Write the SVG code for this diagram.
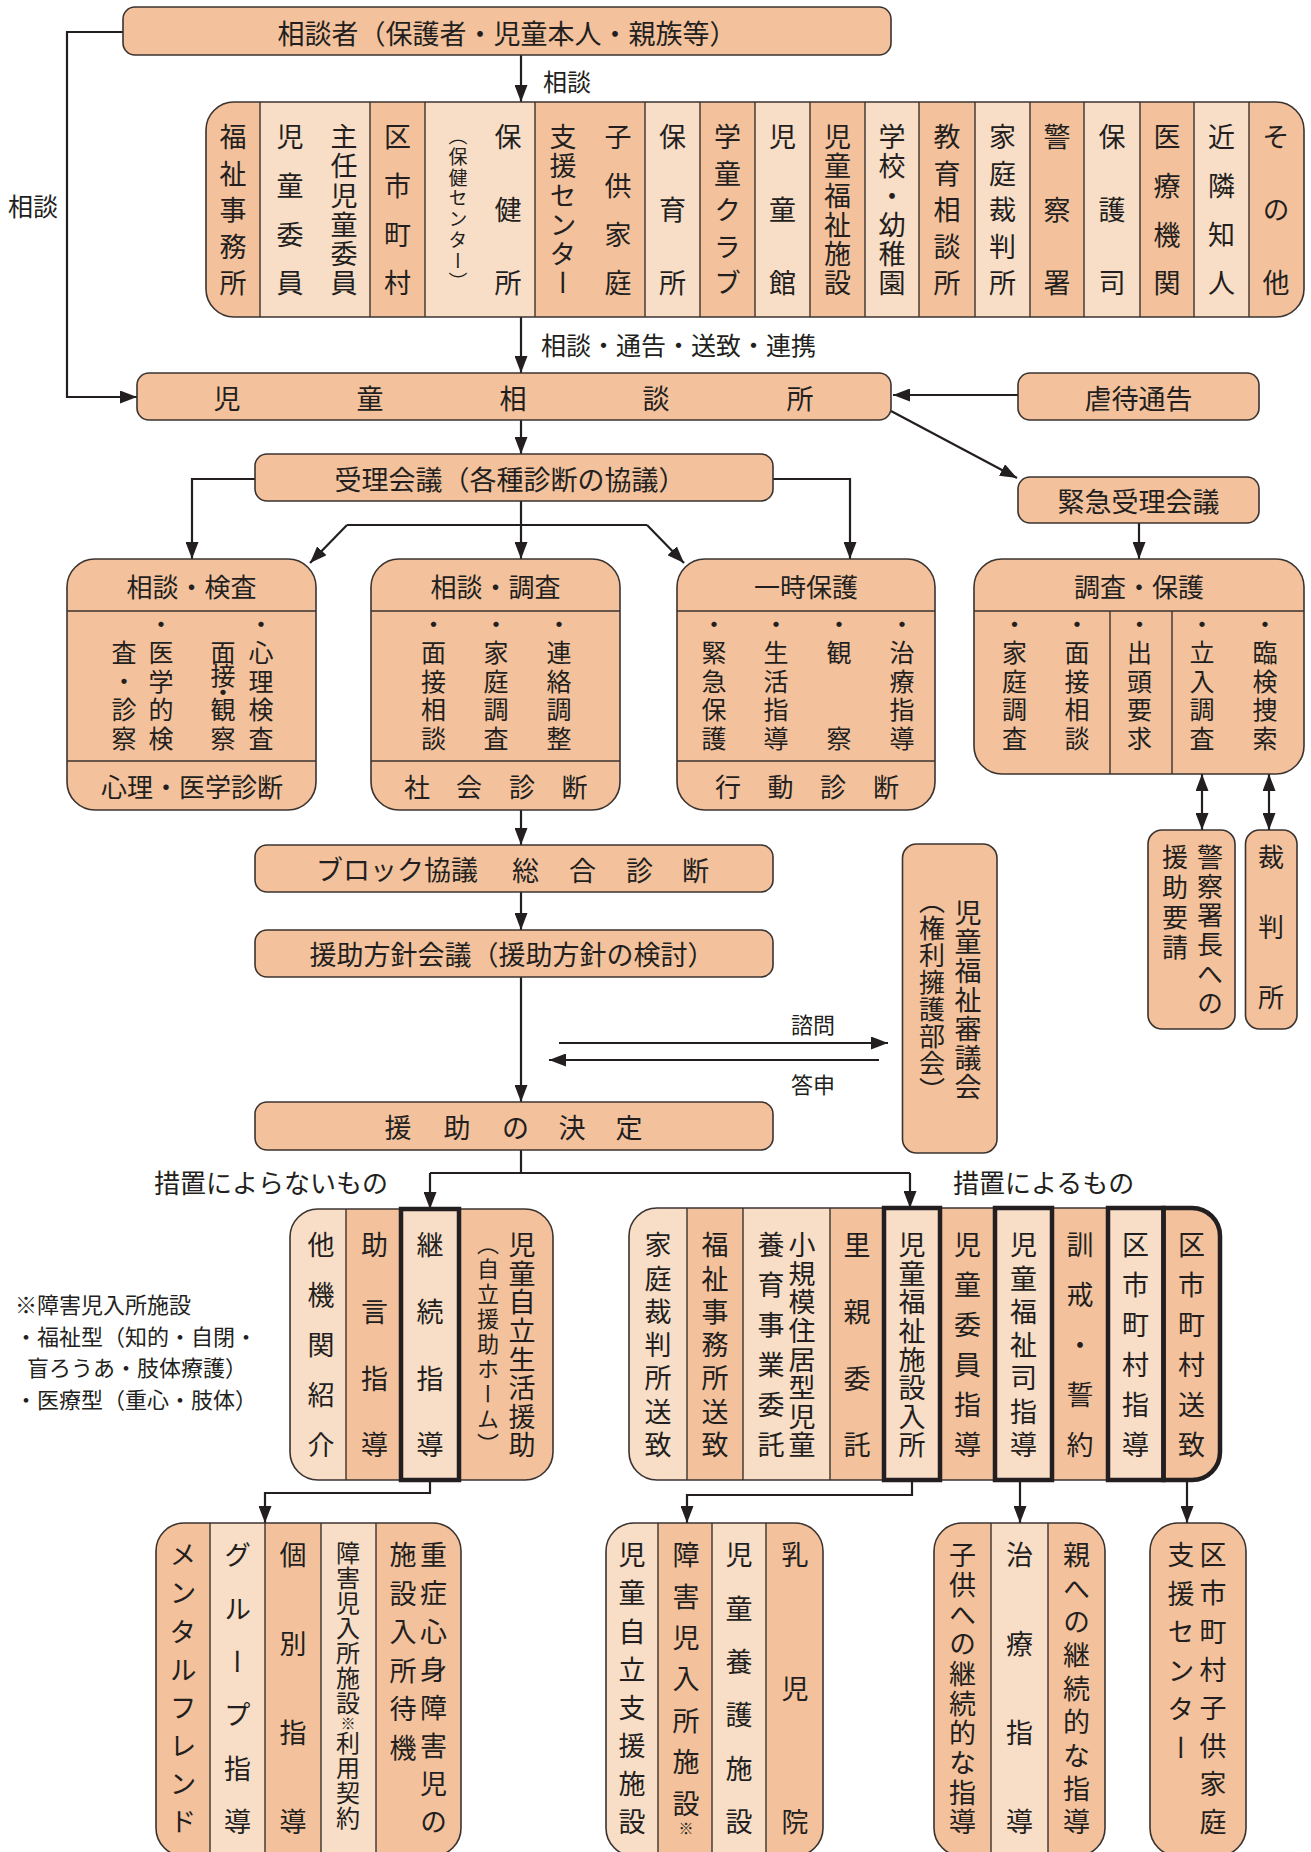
<svg xmlns="http://www.w3.org/2000/svg" width="1311" height="1852" viewBox="0 0 1311 1852">
<defs>
<style>
text{font-family:"Noto Sans CJK JP","Noto Sans CJK SC",sans-serif;fill:#231f20}
.m{text-anchor:middle;dominant-baseline:central}
.s{text-anchor:start;dominant-baseline:central}
.v{writing-mode:vertical-rl}
.f27{font-size:27px}.f26{font-size:26px}.f25{font-size:25px}.f24{font-size:24px}.f22{font-size:22px}.f19{font-size:19px}
.dk{fill:#F3C29C}.lt{fill:#F8DDC7}
.box{fill:#F3C29C;stroke:#3b3330;stroke-width:1.6}
.ol{fill:none;stroke:#3b3330;stroke-width:1.6}
.sep{fill:none;stroke:#3b3330;stroke-width:1.4}
.thk{fill:none;stroke:#231f20;stroke-width:4.5}
.ln{fill:none;stroke:#231f20;stroke-width:2.2}
.ar{marker-end:url(#ah)}
.ar2{marker-start:url(#ah);marker-end:url(#ah)}
</style>
<marker id="ah" viewBox="0 0 17 13" refX="17" refY="6.5" markerWidth="17" markerHeight="13" markerUnits="userSpaceOnUse" orient="auto-start-reverse"><path d="M0,0L17,6.5L0,13Z" fill="#231f20"/></marker>
<clipPath id="cAg"><rect x="206" y="102" width="1098" height="215" rx="28"/></clipPath>
<clipPath id="cL"><rect x="290" y="1209" width="263" height="271" rx="28"/></clipPath>
<clipPath id="cR"><rect x="629" y="1208" width="591" height="272" rx="28"/></clipPath>
<clipPath id="cA"><rect x="156" y="1523" width="305" height="333" rx="28"/></clipPath>
<clipPath id="cB"><rect x="606" y="1523" width="217" height="333" rx="28"/></clipPath>
<clipPath id="cC"><rect x="934" y="1523" width="171" height="333" rx="28"/></clipPath>
</defs>

<g id="connectors">
<path class="ln ar" d="M123,32H67V397H137"/>
<path class="ln ar" d="M521,55V102"/>
<path class="ln ar" d="M521,317V373"/>
<path class="ln ar" d="M1018,395H893"/>
<path class="ln ar" d="M891,411L1017,478"/>
<path class="ln ar" d="M1139,523V559"/>
<path class="ln ar" d="M521,420V454"/>
<path class="ln ar" d="M255,479H192V559"/>
<path class="ln ar" d="M773,479H850V559"/>
<path class="ln ar" d="M521,501V559"/>
<path class="ln" d="M347,525H647"/>
<path class="ln ar" d="M347,525L310,563"/>
<path class="ln ar" d="M647,525L684,563"/>
<path class="ln ar2" d="M1202,774V830"/>
<path class="ln ar2" d="M1269,774V830"/>
<path class="ln ar" d="M521,810V845"/>
<path class="ln ar" d="M521,892V930"/>
<path class="ln ar" d="M521,977V1102"/>
<path class="ln ar" d="M559,1043H888"/>
<path class="ln ar" d="M879,1060H549"/>
<path class="ln" d="M521,1150V1173M430,1173H910"/>
<path class="ln ar" d="M430,1173V1209"/>
<path class="ln ar" d="M910,1173V1208"/>
<path class="ln ar" d="M430,1480V1493H265V1523"/>
<path class="ln ar" d="M912,1480V1495H687V1523"/>
<path class="ln ar" d="M1020,1480V1523"/>
<path class="ln ar" d="M1187,1480V1523"/>
<text class="s f25" x="8" y="205">相談</text>
<text class="s f24" x="543" y="80">相談</text>
<text class="s f25" x="541" y="344">相談・通告・送致・連携</text>
<text class="m f22" x="813" y="1023">諮問</text>
<text class="m f22" x="813" y="1083">答申</text>
<text class="s f26" x="154" y="1181">措置によらないもの</text>
<text class="s f26" x="953" y="1181">措置によるもの</text>
</g>

<g id="soudansha">
<rect class="box" x="123" y="7" width="768" height="48" rx="12"/>
<text class="m f27" x="507" y="32">相談者（保護者・児童本人・親族等）</text>
</g>

<g id="agencies">
<g clip-path="url(#cAg)">
<rect class="dk" x="206" y="102" width="1098" height="215"/>
<rect class="lt" x="260" y="102" width="110" height="215"/>
<rect class="lt" x="425" y="102" width="110" height="215"/>
<rect class="lt" x="645" y="102" width="55" height="215"/>
<rect class="lt" x="755" y="102" width="55" height="215"/>
<rect class="lt" x="865" y="102" width="54" height="215"/>
<rect class="lt" x="975" y="102" width="55" height="215"/>
<rect class="lt" x="1084" y="102" width="56" height="215"/>
<rect class="lt" x="1194" y="102" width="55" height="215"/>
</g>
<path class="sep" d="M260,102V317M370,102V317M425,102V317M535,102V317M645,102V317M700,102V317M755,102V317M810,102V317M865,102V317M919,102V317M975,102V317M1030,102V317M1084,102V317M1140,102V317M1194,102V317M1249,102V317"/>
<rect class="ol" x="206" y="102" width="1098" height="215" rx="28"/>
<text class="v f27" x="233" y="123.5" style="letter-spacing:9.5px">福祉事務所</text>
<text class="v f27" x="290" y="123.5" style="letter-spacing:21.67px">児童委員</text>
<text class="v f27" x="344" y="123.5" style="letter-spacing:2.2px">主任児童委員</text>
<text class="v f27" x="397.5" y="123.5" style="letter-spacing:21.67px">区市町村</text>
<text class="v f19" x="458" y="126" style="letter-spacing:1.9px">（保健センター）</text>
<text class="v f27" x="508" y="123.5" style="letter-spacing:46px">保健所</text>
<text class="v f27" x="563" y="123.5" style="letter-spacing:2.2px">支援センター</text>
<text class="v f27" x="618" y="123.5" style="letter-spacing:21.67px">子供家庭</text>
<text class="v f27" x="672.5" y="123.5" style="letter-spacing:46px">保育所</text>
<text class="v f27" x="727.5" y="123.5" style="letter-spacing:9.5px">学童クラブ</text>
<text class="v f27" x="782.5" y="123.5" style="letter-spacing:46px">児童館</text>
<text class="v f27" x="837.5" y="123.5" style="letter-spacing:2.2px">児童福祉施設</text>
<text class="v f27" x="892" y="123.5" style="letter-spacing:2.2px">学校・幼稚園</text>
<text class="v f27" x="947" y="123.5" style="letter-spacing:9.5px">教育相談所</text>
<text class="v f27" x="1002.5" y="123.5" style="letter-spacing:9.5px">家庭裁判所</text>
<text class="v f27" x="1057" y="123.5" style="letter-spacing:46px">警察署</text>
<text class="v f27" x="1112" y="123.5" style="letter-spacing:46px">保護司</text>
<text class="v f27" x="1167" y="123.5" style="letter-spacing:21.67px">医療機関</text>
<text class="v f27" x="1221.5" y="123.5" style="letter-spacing:21.67px">近隣知人</text>
<text class="v f27" x="1276" y="123.5" style="letter-spacing:46px">その他</text>
</g>

<g id="jidousoudanjo">
<rect class="box" x="137" y="373" width="754" height="47" rx="12"/>
<text class="m f27" x="227 370 513 656 800" y="397">児童相談所</text>
</g>

<g id="gyakutai">
<rect class="box" x="1018" y="373" width="241" height="47" rx="12"/>
<text class="m f27" x="1138.5" y="397">虐待通告</text>
</g>

<g id="kinkyu">
<rect class="box" x="1018" y="477" width="241" height="46" rx="12"/>
<text class="m f27" x="1138.5" y="500">緊急受理会議</text>
</g>

<g id="juri">
<rect class="box" x="255" y="454" width="518" height="47" rx="12"/>
<text class="m f27" x="510" y="478">受理会議（各種診断の協議）</text>
</g>

<g id="soudan-kensa">
<rect class="box" x="67" y="559" width="249" height="251" rx="28"/>
<path class="sep" d="M67,611H316M67,761H316"/>
<text class="m f26" x="191.5" y="585">相談・検査</text>
<text class="m f26" x="192" y="785">心理・医学診断</text>
<text class="v f25" x="161" y="611.5" style="letter-spacing:3.5px">・医学的検</text>
<text class="v f25" x="124" y="640" style="letter-spacing:3.5px">査・診察</text>
<text class="v f25" x="261" y="611.5" style="letter-spacing:3.5px">・心理検査</text>
<text class="v f25" x="223" y="640 662.5 680 697 725.5">面接・観察</text>
</g>

<g id="soudan-chousa">
<rect class="box" x="371" y="559" width="249" height="251" rx="28"/>
<path class="sep" d="M371,611H620M371,761H620"/>
<text class="m f26" x="495.5" y="585">相談・調査</text>
<text class="m f26" x="417 469 522 574.5" y="785">社会診断</text>
<text class="v f25" x="433.5" y="611.5" style="letter-spacing:3.5px">・面接相談</text>
<text class="v f25" x="496" y="611.5" style="letter-spacing:3.5px">・家庭調査</text>
<text class="v f25" x="559" y="611.5" style="letter-spacing:3.5px">・連絡調整</text>
</g>

<g id="ichiji-hogo">
<rect class="box" x="677" y="559" width="258" height="251" rx="28"/>
<path class="sep" d="M677,611H935M677,761H935"/>
<text class="m f26" x="806" y="585">一時保護</text>
<text class="m f26" x="728 780.5 833 886" y="785">行動診断</text>
<text class="v f25" x="714" y="611.5" style="letter-spacing:3.5px">・緊急保護</text>
<text class="v f25" x="776" y="611.5" style="letter-spacing:3.5px">・生活指導</text>
<text class="v f25" x="839" y="611.5 640 725.5">・観察</text>
<text class="v f25" x="902" y="611.5" style="letter-spacing:3.5px">・治療指導</text>
</g>

<g id="chousa-hogo">
<rect class="box" x="974" y="559" width="330" height="215" rx="28"/>
<path class="sep" d="M974,611H1304M1110,611V774M1172,611V774"/>
<text class="m f26" x="1139" y="585">調査・保護</text>
<text class="v f25" x="1014.5" y="611.5" style="letter-spacing:3.5px">・家庭調査</text>
<text class="v f25" x="1077" y="611.5" style="letter-spacing:3.5px">・面接相談</text>
<text class="v f25" x="1139.5" y="611.5" style="letter-spacing:3.5px">・出頭要求</text>
<text class="v f25" x="1202" y="611.5" style="letter-spacing:3.5px">・立入調査</text>
<text class="v f25" x="1265" y="611.5" style="letter-spacing:3.5px">・臨検捜索</text>
</g>

<g id="keisatsu">
<rect class="box" x="1148" y="830" width="87" height="199" rx="14"/>
<text class="v f26" x="1210" y="844" style="letter-spacing:3.2px">警察署長への</text>
<text class="v f26" x="1175" y="844" style="letter-spacing:4px">援助要請</text>
</g>

<g id="saibansho">
<rect class="box" x="1245.5" y="830" width="51.5" height="199" rx="14"/>
<text class="v f26" x="1271" y="844 914 984">裁判所</text>
</g>

<g id="block">
<rect class="box" x="255" y="845" width="518" height="47" rx="12"/>
<text class="s f27" x="316" y="868.5">ブロック協議<tspan x="485">　総</tspan><tspan x="542">　合</tspan><tspan x="599">　診</tspan><tspan x="655">　断</tspan></text>
</g>

<g id="enjo-houshin">
<rect class="box" x="255" y="930" width="518" height="47" rx="12"/>
<text class="m f27" x="512" y="953.5">援助方針会議（援助方針の検討）</text>
</g>

<g id="shingikai">
<rect class="box" x="902.5" y="844" width="94.5" height="309" rx="14"/>
<text class="v f27" x="968" y="899.5" style="letter-spacing:2px">児童福祉審議会</text>
<text class="v f26" x="932" y="888" style="letter-spacing:1px">（権利擁護部会）</text>
</g>

<g id="enjo-kettei">
<rect class="box" x="255" y="1102" width="518" height="48" rx="12"/>
<text class="m f27" x="398 457 515.5 572 629" y="1126">援助の決定</text>
</g>

<g id="note">
<text class="f22" x="15" y="1313">※障害児入所施設</text>
<text class="f22" x="15" y="1345">・福祉型（知的・自閉・</text>
<text class="f22" x="27" y="1376">盲ろうあ・肢体療護）</text>
<text class="f22" x="15" y="1408">・医療型（重心・肢体）</text>
</g>

<g id="sochi-nashi">
<g clip-path="url(#cL)">
<rect class="dk" x="290" y="1209" width="263" height="271"/>
<rect class="lt" x="290" y="1209" width="56" height="271"/>
<rect class="lt" x="401" y="1209" width="58" height="271"/>
</g>
<path class="sep" d="M346,1209V1480M459,1209V1480"/>
<rect class="ol" x="290" y="1209" width="263" height="271" rx="28"/>
<rect class="thk" x="401" y="1209" width="58" height="271"/>
<text class="v f27" x="321" y="1231.5" style="letter-spacing:23px">他機関紹介</text>
<text class="v f27" x="374.5" y="1231.5" style="letter-spacing:39.7px">助言指導</text>
<text class="v f27" x="430" y="1231.5" style="letter-spacing:39.7px">継続指導</text>
<text class="v f27" x="522" y="1231.5" style="letter-spacing:1.6px">児童自立生活援助</text>
<text class="v f22" x="488" y="1233" style="letter-spacing:2.9px">（自立援助ホーム）</text>
</g>

<g id="sochi-ari">
<g clip-path="url(#cR)">
<rect class="dk" x="629" y="1208" width="591" height="272"/>
<rect class="lt" x="629" y="1208" width="58" height="272"/>
<rect class="lt" x="743" y="1208" width="87" height="272"/>
<rect class="lt" x="884" y="1208" width="56" height="272"/>
<rect class="lt" x="995" y="1208" width="57" height="272"/>
<rect class="lt" x="1108" y="1208" width="55.5" height="272"/>
</g>
<path class="sep" d="M687,1208V1480M743,1208V1480M830,1208V1480M1052,1208V1480"/>
<rect class="ol" x="629" y="1208" width="591" height="272" rx="28"/>
<rect class="thk" x="884" y="1208" width="56" height="272"/>
<rect class="thk" x="995" y="1208" width="57" height="272"/>
<rect class="thk" x="1108" y="1208" width="55.5" height="272"/>
<path class="thk" d="M1163.5,1208H1192A28,28 0 0 1 1220,1236V1452A28,28 0 0 1 1192,1480H1163.5Z"/>
<text class="v f27" x="658" y="1231.5" style="letter-spacing:6.3px">家庭裁判所送致</text>
<text class="v f27" x="715" y="1231.5" style="letter-spacing:6.3px">福祉事務所送致</text>
<text class="v f27" x="802" y="1231.5" style="letter-spacing:1.6px">小規模住居型児童</text>
<text class="v f27" x="771" y="1231.5" style="letter-spacing:13px">養育事業委託</text>
<text class="v f27" x="857" y="1231.5" style="letter-spacing:39.7px">里親委託</text>
<text class="v f27" x="912" y="1231.5" style="letter-spacing:1.6px">児童福祉施設入所</text>
<text class="v f27" x="967.5" y="1231.5" style="letter-spacing:13px">児童委員指導</text>
<text class="v f27" x="1023.5" y="1231.5" style="letter-spacing:6.3px">児童福祉司指導</text>
<text class="v f27" x="1080" y="1231.5" style="letter-spacing:23px">訓戒・誓約</text>
<text class="v f27" x="1135.5" y="1231.5" style="letter-spacing:13px">区市町村指導</text>
<text class="v f27" x="1191.5" y="1231.5" style="letter-spacing:13px">区市町村送致</text>
</g>

<g id="zaitaku-shidou">
<g clip-path="url(#cA)">
<rect class="dk" x="156" y="1523" width="305" height="333"/>
<rect class="lt" x="210" y="1523" width="55" height="333"/>
<rect class="lt" x="321" y="1523" width="55" height="333"/>
</g>
<path class="sep" d="M210,1523V1856M265,1523V1856M321,1523V1856M376,1523V1856"/>
<rect class="ol" x="156" y="1523" width="305" height="333" rx="28"/>
<text class="v f27" x="183" y="1541.5 1579.6 1617.8 1655.9 1694.1 1732.2 1770.3 1808.5">メンタルフレンド</text>
<text class="v f27" x="237.5" y="1541.5 1594.9 1648.3 1701.7 1755.1 1808.5">グループ指導</text>
<text class="v f27" x="293" y="1541.5 1630.5 1719.5 1808.5">個別指導</text>
<text class="v f24" x="348" y="1541 1566 1591 1616 1641 1666 1691 1716 1731 1756 1781 1806">障害児入所施設<tspan style="font-size:15px">※</tspan>利用契約</text>
<text class="v f27" x="433.5" y="1541.5 1579.6 1617.8 1655.9 1694.1 1732.2 1770.3 1808.5">重症心身障害児の</text>
<text class="v f27" x="403" y="1541.5 1580 1618.5 1657 1695.5 1734">施設入所待機</text>
</g>

<g id="shisetsu">
<g clip-path="url(#cB)">
<rect class="dk" x="606" y="1523" width="217" height="333"/>
<rect class="lt" x="606" y="1523" width="52" height="333"/>
<rect class="lt" x="712" y="1523" width="54" height="333"/>
</g>
<path class="sep" d="M658,1523V1856M712,1523V1856M766,1523V1856"/>
<rect class="ol" x="606" y="1523" width="217" height="333" rx="28"/>
<text class="v f27" x="632" y="1541.5 1579.6 1617.8 1655.9 1694.1 1732.2 1770.3 1808.5">児童自立支援施設</text>
<text class="v f27" x="686" y="1541.5 1582.9 1624.3 1665.7 1707.1 1748.5 1789.9">障害児入所施設<tspan y="1821" style="font-size:15px">※</tspan></text>
<text class="v f27" x="739" y="1541.5 1594.9 1648.3 1701.7 1755.1 1808.5">児童養護施設</text>
<text class="v f27" x="795" y="1541.5 1675 1808.5">乳児院</text>
</g>

<g id="fukushishi-shidou">
<g clip-path="url(#cC)">
<rect class="dk" x="934" y="1523" width="171" height="333"/>
<rect class="lt" x="991" y="1523" width="57" height="333"/>
</g>
<path class="sep" d="M991,1523V1856M1048,1523V1856"/>
<rect class="ol" x="934" y="1523" width="171" height="333" rx="28"/>
<text class="v f27" x="962.5" y="1541.5 1571.2 1600.8 1630.5 1660.2 1689.8 1719.5 1749.2 1778.8 1808.5">子供への継続的な指導</text>
<text class="v f27" x="1019.5" y="1541.5 1630.5 1719.5 1808.5">治療指導</text>
<text class="v f27" x="1076.5" y="1541.5 1574.9 1608.3 1641.6 1675 1708.4 1741.8 1775.1 1808.5">親への継続的な指導</text>
</g>

<g id="kodomo-katei-center">
<rect class="box" x="1150" y="1523" width="96" height="333" rx="28"/>
<text class="v f27" x="1213" y="1541.5 1579.6 1617.8 1655.9 1694.1 1732.2 1770.3 1808.5">区市町村子供家庭</text>
<text class="v f27" x="1181" y="1541.5 1580 1618.5 1657 1695.5 1734">支援センター</text>
</g>
</svg>
